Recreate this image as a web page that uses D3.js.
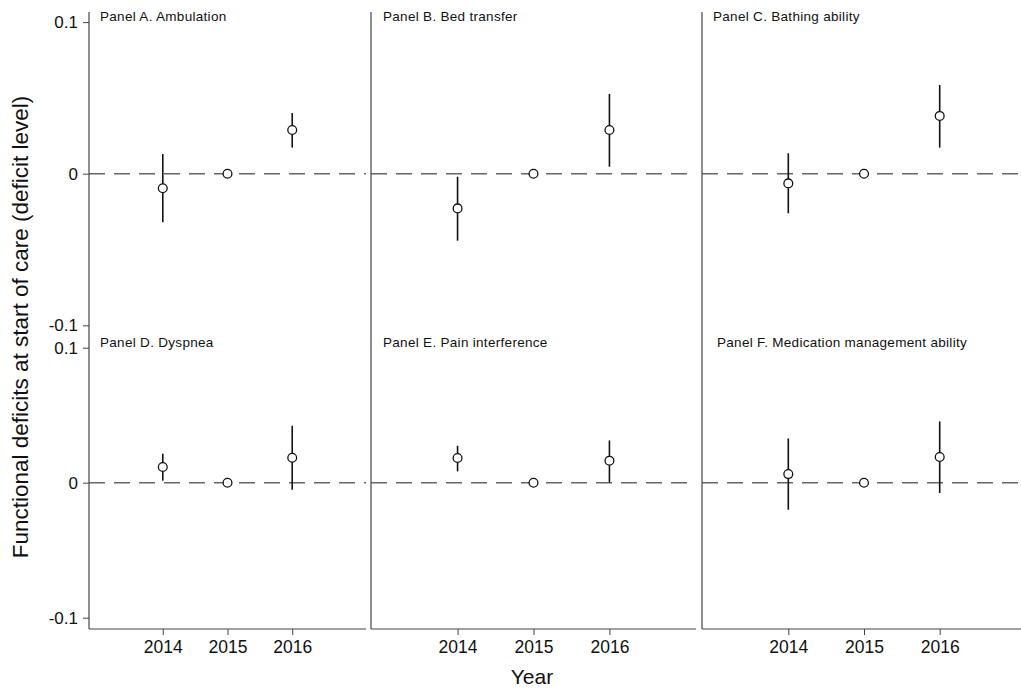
<!DOCTYPE html>
<html>
<head>
<meta charset="utf-8">
<script src="https://cdn.jsdelivr.net/npm/d3@7"></script>
<style>
  html, body { margin: 0; padding: 0; background: #fff; }
  svg { display: block; font-family: "Liberation Sans", Arial, Helvetica, sans-serif; }
</style>
</head>
<body>
<svg id="chart" width="1021" height="692"></svg>
<script>
// ---------- data ----------
const years = [2014, 2015, 2016];
const yTicks = [-0.1, 0, 0.1];
const yTickLabels = ["-0.1", "0", "0.1"];
const panelLabels = [
  "Panel A. Ambulation",
  "Panel B. Bed transfer",
  "Panel C. Bathing ability",
  "Panel D. Dyspnea",
  "Panel E. Pain interference",
  "Panel F. Medication management ability"
];
// point estimates and 95% CI bounds (2015 = reference year)
const estA = [-0.0096, 0, 0.0288], loA = [-0.0320, 0, 0.0172], hiA = [0.0130, 0, 0.0400];
const estB = [-0.0229, 0, 0.0288], loB = [-0.0442, 0, 0.0046], hiB = [-0.0020, 0, 0.0526];
const estC = [-0.0064, 0, 0.0381], loC = [-0.0261, 0, 0.0172], hiC = [0.0135, 0, 0.0585];
const estD = [0.0116, 0, 0.0185], loD = [0.0015, 0, -0.0052], hiD = [0.0215, 0, 0.0422];
const estE = [0.0183, 0, 0.0163], loE = [0.0084, 0, 0.0002], hiE = [0.0274, 0, 0.0313];
const estF = [0.0064, 0, 0.0190], loF = [-0.0200, 0, -0.0076], hiF = [0.0328, 0, 0.0454];

const yTitle = "Functional deficits at start of care (deficit level)";
const xTitle = "Year";

// ---------- layout ----------
const svg = d3.select("#chart");
const cols = [
  { x0: 89, x1: 366, axisEnd: 366 },
  { x0: 371, x1: 696, axisEnd: 696 },
  { x0: 702, x1: 1026, axisEnd: 1021 }
];
const rows = [
  { yBottom: 325.3, yTop: 22.1, labelY: 21 },
  { yBottom: 617.7, yTop: 347.7, labelY: 347 }
];
const axisTop = 12, axisBottom = 629;
const axisColor = "#444";

const panels = [
  { est: estA, lo: loA, hi: hiA },
  { est: estB, lo: loB, hi: hiB },
  { est: estC, lo: loC, hi: hiC },
  { est: estD, lo: loD, hi: hiD },
  { est: estE, lo: loE, hi: hiE },
  { est: estF, lo: loF, hi: hiF }
];

const xDomain = [2012.86, 2017.14];
const labelOffsets = [11, 12, 11, 11, 12, 15];

panels.forEach((p, i) => {
  const r = rows[Math.floor(i / 3)];
  const c = cols[i % 3];
  const x = d3.scaleLinear().domain(xDomain).range([c.x0, c.x1]);
  const y = d3.scaleLinear().domain([-0.1, 0.1]).range([r.yBottom, r.yTop]);
  const g = svg.append("g");

  // zero reference line
  g.append("line")
    .attr("x1", c.x0 - 5).attr("x2", Math.min(c.x1, 1021))
    .attr("y1", y(0)).attr("y2", y(0))
    .attr("stroke", "#666").attr("stroke-width", 1.6)
    .attr("stroke-dasharray", "16,9")
    .attr("stroke-dashoffset", -5);

  // error bars (skip reference year)
  const idx = years.map((d, k) => k).filter(k => p.lo[k] !== p.hi[k]);
  g.selectAll("line.err").data(idx).enter().append("line")
    .attr("class", "err")
    .attr("x1", k => x(years[k])).attr("x2", k => x(years[k]))
    .attr("y1", k => y(p.lo[k])).attr("y2", k => y(p.hi[k]))
    .attr("stroke", "#111").attr("stroke-width", 1.6);

  // points
  g.selectAll("circle").data(years).enter().append("circle")
    .attr("cx", d => x(d))
    .attr("cy", (d, k) => y(p.est[k]))
    .attr("r", 4.4)
    .attr("fill", "#fff").attr("stroke", "#111").attr("stroke-width", 1.3);

  // panel label
  g.append("text")
    .attr("x", c.x0 + labelOffsets[i]).attr("y", r.labelY)
    .attr("font-size", 13.5).attr("letter-spacing", 0.3)
    .attr("fill", "#111")
    .text(panelLabels[i]);

  // y tick labels on first column
  if (i % 3 === 0) {
    const ya = d3.axisLeft(y).tickValues(yTicks)
      .tickFormat((d, k) => yTickLabels[k]).tickSize(6).tickPadding(5);
    const ag = g.append("g").attr("transform", `translate(${c.x0},0)`).call(ya);
    ag.select(".domain").remove();
    ag.selectAll(".tick line").attr("stroke", axisColor);
    ag.selectAll(".tick text").attr("font-size", 17).attr("fill", "#111")
      .attr("font-family", "Liberation Sans, Arial, sans-serif");
  }

  // x axis on bottom row
  if (i >= 3) {
    const xa = d3.axisBottom(x).tickValues(years).tickFormat(d3.format("d"))
      .tickSize(6).tickPadding(6);
    const ag = g.append("g").attr("transform", `translate(0,${axisBottom})`).call(xa);
    ag.select(".domain").remove();
    ag.selectAll(".tick line").attr("stroke", axisColor);
    ag.selectAll(".tick text").attr("font-size", 17.5).attr("fill", "#111")
      .attr("font-family", "Liberation Sans, Arial, sans-serif");
    g.append("line")
      .attr("x1", c.x0).attr("x2", c.axisEnd)
      .attr("y1", axisBottom).attr("y2", axisBottom)
      .attr("stroke", axisColor).attr("stroke-width", 1.2);
  }
});

// vertical axis lines per column
cols.forEach(c => {
  svg.append("line")
    .attr("x1", c.x0).attr("x2", c.x0)
    .attr("y1", axisTop).attr("y2", axisBottom)
    .attr("stroke", axisColor).attr("stroke-width", 1.2);
});

// axis titles
svg.append("text")
  .attr("transform", "translate(28,327) rotate(-90)")
  .attr("text-anchor", "middle")
  .attr("font-size", 22.5).attr("fill", "#111")
  .text(yTitle);

svg.append("text")
  .attr("x", 532).attr("y", 684)
  .attr("text-anchor", "middle")
  .attr("font-size", 21).attr("fill", "#111")
  .text(xTitle);
</script>
</body>
</html>
